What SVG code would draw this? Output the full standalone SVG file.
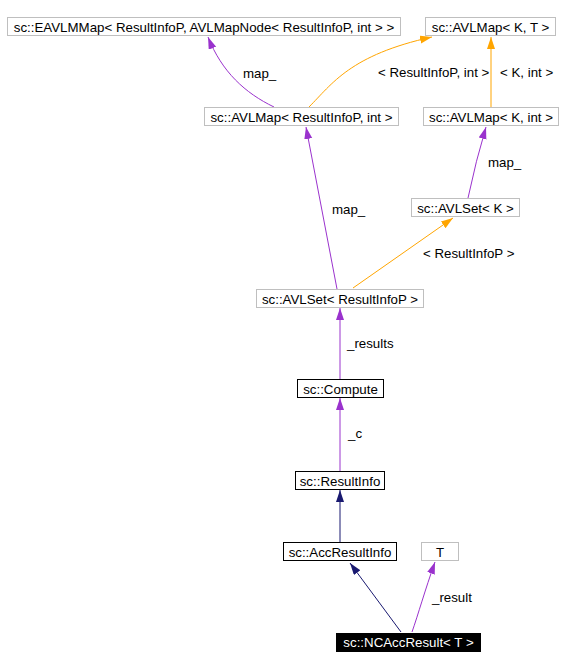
<svg xmlns="http://www.w3.org/2000/svg" width="564" height="670" viewBox="0 0 564 670">
<style>
text{font-family:"Liberation Sans",Arial,sans-serif;font-size:13.3px;fill:#000}
.n text{text-anchor:middle}
.g rect{fill:#fff;stroke:#bfbfbf;stroke-width:1}
.b rect{fill:#fff;stroke:#000;stroke-width:1}
.e path{fill:none;stroke-width:1}
.p{stroke:#9a32cd}
.o{stroke:#ffa500}
.m{stroke:#191970}
</style>
<defs>
<marker id="ap" markerUnits="userSpaceOnUse" markerWidth="13" markerHeight="9" refX="12" refY="4" orient="auto"><path d="M0,0 L12,4 L0,8 z" fill="#9a32cd"/></marker>
<marker id="ao" markerUnits="userSpaceOnUse" markerWidth="13" markerHeight="9" refX="12" refY="4" orient="auto"><path d="M0,0 L12,4 L0,8 z" fill="#ffa500"/></marker>
<marker id="am" markerUnits="userSpaceOnUse" markerWidth="13" markerHeight="9" refX="12" refY="4" orient="auto"><path d="M0,0 L12,4 L0,8 z" fill="#191970"/></marker>
</defs>
<rect width="564" height="670" fill="#fff"/>
<g id="edges" class="e">
<path class="p" d="M274,107 C245,93 222,72 208,37" marker-end="url(#ap)"/>
<path class="o" d="M309,107 C332,84 350,55 432,37" marker-end="url(#ao)"/>
<path class="o" d="M491,107 L491,37" marker-end="url(#ao)"/>
<path class="p" d="M337,289 L306,127" marker-end="url(#ap)"/>
<path class="p" d="M468,198 Q476,160 486,127" marker-end="url(#ap)"/>
<path class="o" d="M353,288 L453,218" marker-end="url(#ao)"/>
<path class="p" d="M340,379 L340,308" marker-end="url(#ap)"/>
<path class="p" d="M340,471 L340,398" marker-end="url(#ap)"/>
<path class="m" d="M340,542 L340,490" marker-end="url(#am)"/>
<path class="m" d="M401,632 L350,563" marker-end="url(#am)"/>
<path class="p" d="M412,632 C418,615 425,590 435,562" marker-end="url(#ap)"/>
<text x="243" y="78">map_</text>
<text x="378" y="77">&lt; ResultInfoP, int &gt;</text>
<text x="500" y="77">&lt; K, int &gt;</text>
<text x="332" y="214">map_</text>
<text x="488" y="167">map_</text>
<text x="423" y="258">&lt; ResultInfoP &gt;</text>
<text x="347" y="348">_results</text>
<text x="348" y="438">_c</text>
<text x="432" y="602">_result</text>
</g>
<g id="n_eavlmmap" class="n g"><rect x="7.5" y="17.5" width="393" height="18"/><text x="204" y="31.5">sc::EAVLMMap&lt; ResultInfoP, AVLMapNode&lt; ResultInfoP, int &gt; &gt;</text></g>
<g id="n_avlmap_kt" class="n g"><rect x="425.5" y="17.5" width="130" height="18"/><text x="490.5" y="31.5">sc::AVLMap&lt; K, T &gt;</text></g>
<g id="n_avlmap_rip" class="n g"><rect x="204.5" y="107.5" width="194" height="18"/><text x="301.5" y="121.5">sc::AVLMap&lt; ResultInfoP, int &gt;</text></g>
<g id="n_avlmap_kint" class="n g"><rect x="423.5" y="107.5" width="135" height="18"/><text x="491" y="121.5">sc::AVLMap&lt; K, int &gt;</text></g>
<g id="n_avlset_k" class="n g"><rect x="411.5" y="198.5" width="108" height="18"/><text x="465.5" y="212.5">sc::AVLSet&lt; K &gt;</text></g>
<g id="n_avlset_rip" class="n g"><rect x="256.5" y="289.5" width="167" height="18"/><text x="340" y="303.5">sc::AVLSet&lt; ResultInfoP &gt;</text></g>
<g id="n_compute" class="n b"><rect x="297.5" y="379.5" width="86" height="18"/><text x="340.5" y="393.5">sc::Compute</text></g>
<g id="n_resultinfo" class="n b"><rect x="295.5" y="471.5" width="89" height="18"/><text x="340" y="485.5">sc::ResultInfo</text></g>
<g id="n_accresultinfo" class="n b"><rect x="283.5" y="542.5" width="113" height="18"/><text x="340" y="556.5">sc::AccResultInfo</text></g>
<g id="n_t" class="n g"><rect x="421.5" y="542.5" width="37" height="18"/><text x="440" y="556.5">T</text></g>
<g id="n_ncaccresult" class="n"><rect x="336" y="633" width="145" height="19" fill="#000"/><text x="408.5" y="647" style="fill:#fff">sc::NCAccResult&lt; T &gt;</text></g>
</svg>
